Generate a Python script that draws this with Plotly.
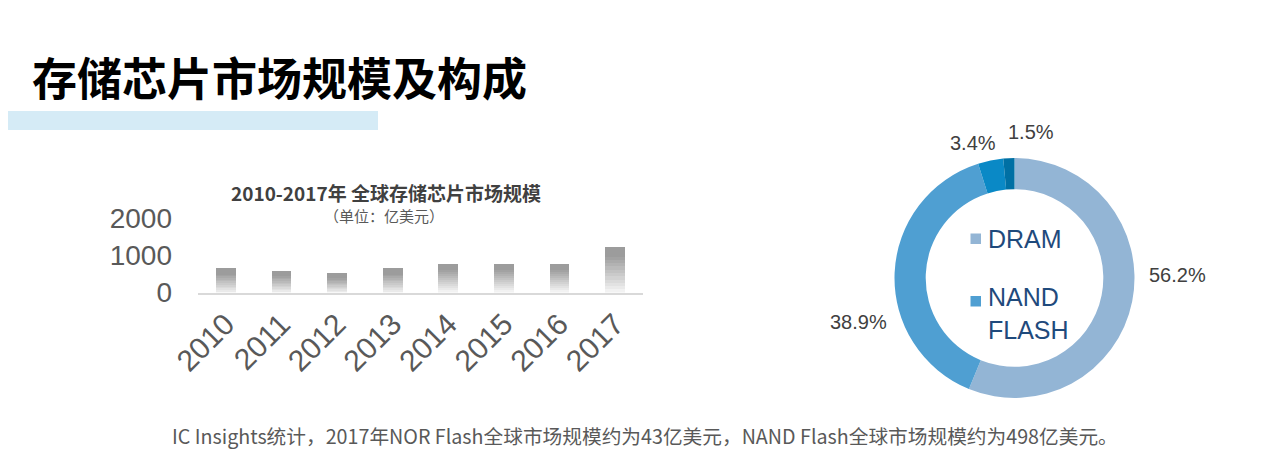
import plotly.graph_objects as go

# ---------------- data ----------------
years = ["2010", "2011", "2012", "2013", "2014", "2015", "2016", "2017"]
market_size = [650, 590, 520, 650, 760, 760, 765, 1230]  # 亿美元
y_ticks = [0, 1000, 2000]

share_labels = ["DRAM", "NAND FLASH", "NOR FLASH", "其他"]
share_values = [56.2, 38.9, 3.4, 1.5]
share_colors = ["#93b5d5", "#4f9fd2", "#0a89c6", "#0070a4"]

main_title = "存储芯片市场规模及构成"
bar_title = "2010-2017年 全球存储芯片市场规模"
bar_subtitle = "（单位：亿美元）"
footer = "IC Insights统计，2017年NOR Flash全球市场规模约为43亿美元，NAND Flash全球市场规模约为498亿美元。"

W, H = 1269, 451
OFF = 8  # page body margin


def px(x):
    return (x - OFF) / W


def py(y):
    return 1 - (y - OFF) / H


fig = go.Figure()

# gradient bars: stacked segments (bottom light -> top grey)
N = 14
top_rgb = (0x9c, 0x9c, 0x9c)
bot_rgb = (0xf6, 0xf6, 0xf6)
for i in range(N):
    t = (i + 0.5) / N
    c = tuple(int(round(bot_rgb[k] + (top_rgb[k] - bot_rgb[k]) * min(1, t * 1.25))) for k in range(3))
    fig.add_trace(go.Bar(
        x=years, y=[v / N for v in market_size],
        marker=dict(color="rgb(%d,%d,%d)" % c, line=dict(width=0)),
        showlegend=False, hoverinfo="skip",
        xaxis="x", yaxis="y",
    ))

fig.add_trace(go.Pie(
    labels=share_labels, values=share_values, sort=False, direction="clockwise",
    rotation=0, hole=0.74, textinfo="none", showlegend=False, automargin=False,
    marker=dict(colors=share_colors, line=dict(width=0)),
    domain=dict(x=[px(894.5), px(1134.5)], y=[py(398), py(158)]),
))

fig.update_layout(
    template="none",
    width=W, height=H, autosize=False,
    margin=dict(l=0, r=0, t=0, b=0, pad=0, autoexpand=False),
    paper_bgcolor="white", plot_bgcolor="white",
    barmode="stack", bargap=0.645, showlegend=False,
    font=dict(family="Liberation Sans, Arial, sans-serif", color="#595959"),
    xaxis=dict(
        domain=[px(198), px(643)], anchor="y", automargin=False,
        type="category", tickmode="array", tickvals=years, ticktext=years,
        showline=True, linecolor="#d9d9d9", linewidth=2,
        ticks="", tickangle=-45, tickfont=dict(size=30, color="#595959"),
        showgrid=False, zeroline=False,
    ),
    yaxis=dict(
        domain=[py(292.5), py(218.5)], anchor="x", range=[0, 2000], automargin=False,
        tickvals=y_ticks, ticktext=[str(v) for v in y_ticks],
        tickfont=dict(size=28, color="#595959"), ticklabelstandoff=25,
        showgrid=False, zeroline=False, showline=False, ticks="",
    ),
)

shapes = [
    dict(type="rect", xref="paper", yref="paper", x0=px(0), x1=px(378), y0=py(130), y1=py(111),
         fillcolor="#d5ebf6", line=dict(width=0), layer="below"),
    dict(type="rect", xref="paper", yref="paper", x0=px(970.5), x1=px(981), y0=py(244), y1=py(233.5),
         fillcolor=share_colors[0], line=dict(width=0)),
    dict(type="rect", xref="paper", yref="paper", x0=px(970.5), x1=px(981), y0=py(306.5), y1=py(296),
         fillcolor=share_colors[1], line=dict(width=0)),
]
fig.update_layout(shapes=shapes)

ann = []
ann.append(dict(text="<b>" + main_title + "</b>", x=px(30), y=py(77), xanchor="left", yanchor="middle",
                font=dict(family="Noto Sans CJK SC", size=45, color="#000000")))
ann.append(dict(text="<b>" + bar_title + "</b>", x=px(386), y=py(193), xanchor="center", yanchor="middle",
                font=dict(family="Noto Sans CJK SC", size=19, color="#404040")))
ann.append(dict(text=bar_subtitle, x=px(384), y=py(215), xanchor="center", yanchor="middle",
                font=dict(family="Noto Sans CJK SC", size=15, color="#595959")))
ann.append(dict(text=footer, x=px(645), y=py(435), xanchor="center", yanchor="middle",
                font=dict(family="Noto Sans CJK SC", size=19.7, color="#595959")))
# legend text inside the donut
ann.append(dict(text=share_labels[0], x=px(986), y=py(239), xanchor="left", yanchor="middle",
                font=dict(family="Liberation Sans, Arial", size=25, color="#1f4a7c")))
ann.append(dict(text=share_labels[1].replace(" ", "<br>"), x=px(986), y=py(313), xanchor="left", yanchor="middle",
                align="left", font=dict(family="Liberation Sans, Arial", size=25, color="#1f4a7c")))
# percentage labels
pct_pos = [(1147, 275, "left"), (889, 322, "right"), (973, 143, "center"), (1031, 132, "center")]
for v, (xx, yy, anc) in zip(share_values, pct_pos):
    ann.append(dict(text=f"{v:.1f}%", x=px(xx), y=py(yy), xanchor=anc, yanchor="middle",
                    font=dict(family="Liberation Sans, Arial", size=20, color="#404040")))
for a in ann:
    a.update(xref="paper", yref="paper", showarrow=False)
fig.update_layout(annotations=ann)

fig.write_html("out.html")
